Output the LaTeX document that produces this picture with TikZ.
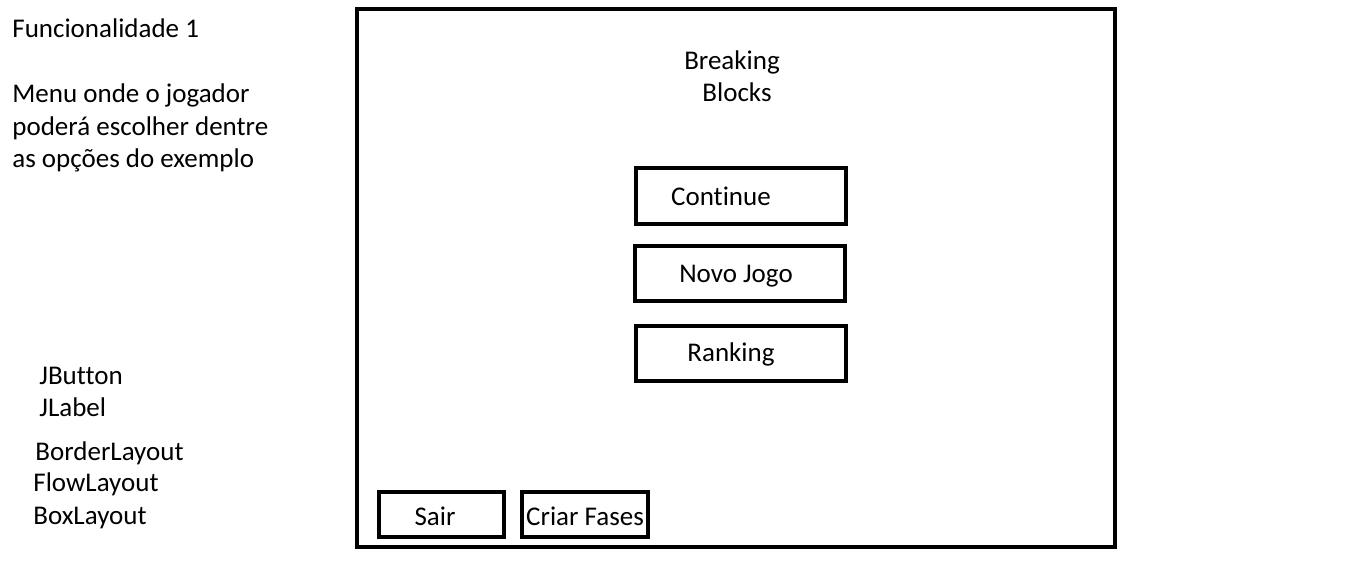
\documentclass[tikz,border=0pt]{standalone}
\usepackage{fontspec}
\setmainfont[RawFeature=-liga]{Carlito}
\begin{document}
\begin{tikzpicture}[x=0.5pt,y=-0.5pt,
  txt/.style={inner sep=0pt,font=\fontsize{13.5pt}{16pt}\selectfont,text height=0.7em,text depth=0.2em,yshift=-2pt},
  lt/.style={txt,anchor=west},
  box/.style={draw=black,line width=2pt}]
\useasboundingbox[fill=white] (0,0) rectangle (1351,564);
% frame
\draw[box] (357,9) rectangle (1115,547);
% buttons
\node[box,minimum width=105pt,minimum height=28pt,inner sep=0pt] (cont) at (741,196) {};
\node[txt] (contt) at (721,196) {Continue};
\node[box,minimum width=105pt,minimum height=27.5pt,inner sep=0pt] (novo) at (740,273.5) {};
\node[txt] (novot) at (736,273) {Novo Jogo};
\node[box,minimum width=105pt,minimum height=27.5pt,inner sep=0pt] (rank) at (741,353.5) {};
\node[txt] (rankt) at (731,352) {Ranking};
\node[box,minimum width=62.5pt,minimum height=22.5pt,inner sep=0pt] (sair) at (441.5,514.5) {};
\node[txt] (sairt) at (435,516) {Sair};
\node[box,minimum width=63pt,minimum height=22.5pt,inner sep=0pt] (criar) at (585,514.5) {};
\node[txt] (criart) at (585,516) {Criar Fases};
% title
\node[txt] (t1) at (732,60) {Breaking};
\node[txt] (t2) at (737,92) {Blocks};
% left texts
\node[lt] (f1) at (12,28) {Funcionalidade 1};
\node[lt] (m1) at (12,93) {Menu onde o jogador};
\node[lt] (m2) at (12,126) {poderá escolher dentre};
\node[lt] (m3) at (12,158) {as opções do exemplo};
\node[lt] (jb) at (39,375) {JButton};
\node[lt] (jl) at (39,407) {JLabel};
\node[lt] (bl) at (35,451) {BorderLayout};
\node[lt] (fl) at (33,482) {FlowLayout};
\node[lt] (xl) at (33,515) {BoxLayout};
\end{tikzpicture}
\end{document}
